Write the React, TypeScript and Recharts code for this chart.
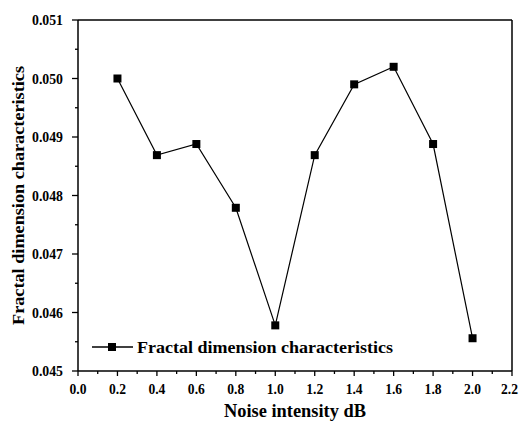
import { LineChart, Line, XAxis, YAxis, Legend, Label, ReferenceLine } from "recharts";

const noiseIntensity = [0.2, 0.4, 0.6, 0.8, 1.0, 1.2, 1.4, 1.6, 1.8, 2.0];
const fractalDimension = [
  0.05, 0.04869, 0.04888, 0.04779, 0.04578, 0.04869, 0.0499, 0.0502, 0.04888,
  0.04556,
];
const xTicks = [
  0, 0.1, 0.2, 0.3, 0.4, 0.5, 0.6, 0.7, 0.8, 0.9, 1.0, 1.1, 1.2, 1.3, 1.4, 1.5,
  1.6, 1.7, 1.8, 1.9, 2.0, 2.1, 2.2,
];
const yTicks = [
  0.045, 0.0455, 0.046, 0.0465, 0.047, 0.0475, 0.048, 0.0485, 0.049, 0.0495,
  0.05, 0.0505, 0.051,
];
const seriesName = "Fractal dimension characteristics";
const xTitle = "Noise intensity dB";

const data = noiseIntensity.map((x, i) => ({ x, value: fractalDimension[i] }));

const FONT = "'Liberation Serif', 'Times New Roman', serif";
const textStyle = { fontFamily: FONT, fontWeight: 700 };

const XTick = (props: any) => {
  const { x, y, payload } = props;
  const v = payload.value;
  const major = Math.round(v * 10) % 2 === 0;
  // last label sits at the right edge of the picture, keep it inside
  const isLast = v >= 2.2;
  return (
    <g>
      <line x1={x} y1={y} x2={x} y2={y + (major ? 5 : 3)} stroke="#000" strokeWidth={1.3} />
      {major && (
        <text
          x={isLast ? x + 6 : x}
          y={y + 23}
          textAnchor={isLast ? "end" : "middle"}
          fontSize={15}
          textLength={17}
          lengthAdjust="spacingAndGlyphs"
          fill="#000"
          style={textStyle}
        >
          {v.toFixed(1)}
        </text>
      )}
    </g>
  );
};

const YTick = (props: any) => {
  const { x, y, payload } = props;
  const v = payload.value;
  const major = Math.round(v * 2000) % 2 === 0;
  return (
    <g>
      <line x1={x} y1={y} x2={x - (major ? 6 : 3)} y2={y} stroke="#000" strokeWidth={1.3} />
      {major && (
        <text
          x={x - 15}
          y={y + 5}
          textAnchor="end"
          fontSize={14}
          textLength={31}
          lengthAdjust="spacingAndGlyphs"
          fill="#000"
          style={textStyle}
        >
          {v.toFixed(3)}
        </text>
      )}
    </g>
  );
};

const SquareDot = (props: any) => {
  const { cx, cy, index } = props;
  if (cx == null || cy == null) return null;
  return <rect key={index} x={cx - 4} y={cy - 4} width={8} height={8} fill="#000" />;
};

const renderLegend = () => (
  <svg width={320} height={24} style={{ display: "block" }}>
    <line x1={2} y1={11} x2={43} y2={11} stroke="#000" strokeWidth={1.5} />
    <rect x={18} y={7} width={8} height={8} fill="#000" />
    <text
      x={47}
      y={17}
      fontSize={17}
      textLength={256}
      lengthAdjust="spacingAndGlyphs"
      fill="#000"
      style={textStyle}
    >
      {seriesName}
    </text>
  </svg>
);

const App = () => {
  return (
    <div style={{ position: "absolute", left: 0, top: 0, background: "#fff" }}>
      <LineChart
        width={519}
        height={421}
        data={data}
        margin={{ top: 20, right: 7, bottom: 0, left: 0 }}
      >
        <XAxis
          dataKey="x"
          type="number"
          domain={[0, 2.2]}
          ticks={xTicks}
          interval={0}
          height={50}
          tickSize={0}
          tickMargin={0}
          tick={<XTick />}
          axisLine={{ stroke: "#000", strokeWidth: 1.5 }}
        >
          <Label
            content={() => (
              <text
                x={295}
                y={417}
                textAnchor="middle"
                fontSize={18}
                textLength={142}
                lengthAdjust="spacingAndGlyphs"
                fill="#000"
                style={textStyle}
              >
                {xTitle}
              </text>
            )}
          />
        </XAxis>
        <YAxis
          type="number"
          domain={[0.045, 0.051]}
          ticks={yTicks}
          interval={0}
          width={78}
          tickSize={0}
          tickMargin={0}
          tick={<YTick />}
          axisLine={{ stroke: "#000", strokeWidth: 1.5 }}
        >
          <Label
            content={() => (
              <text
                x={0}
                y={0}
                transform="translate(24, 195.5) rotate(-90)"
                textAnchor="middle"
                fontSize={17}
                textLength={259}
                lengthAdjust="spacingAndGlyphs"
                fill="#000"
                style={textStyle}
              >
                {seriesName}
              </text>
            )}
          />
        </YAxis>
        <ReferenceLine y={0.051} stroke="#000" strokeWidth={1.5} />
        <ReferenceLine x={2.2} stroke="#000" strokeWidth={1.5} />
        <Legend
          layout="horizontal"
          verticalAlign="middle"
          align="center"
          content={renderLegend}
          wrapperStyle={{ position: "absolute", left: 90, top: 336, width: 320, height: 24 }}
        />
        <Line
          type="linear"
          dataKey="value"
          name={seriesName}
          stroke="#000"
          strokeWidth={1.2}
          dot={<SquareDot />}
          activeDot={false}
          isAnimationActive={false}
        />
      </LineChart>
    </div>
  );
};

export default App;
